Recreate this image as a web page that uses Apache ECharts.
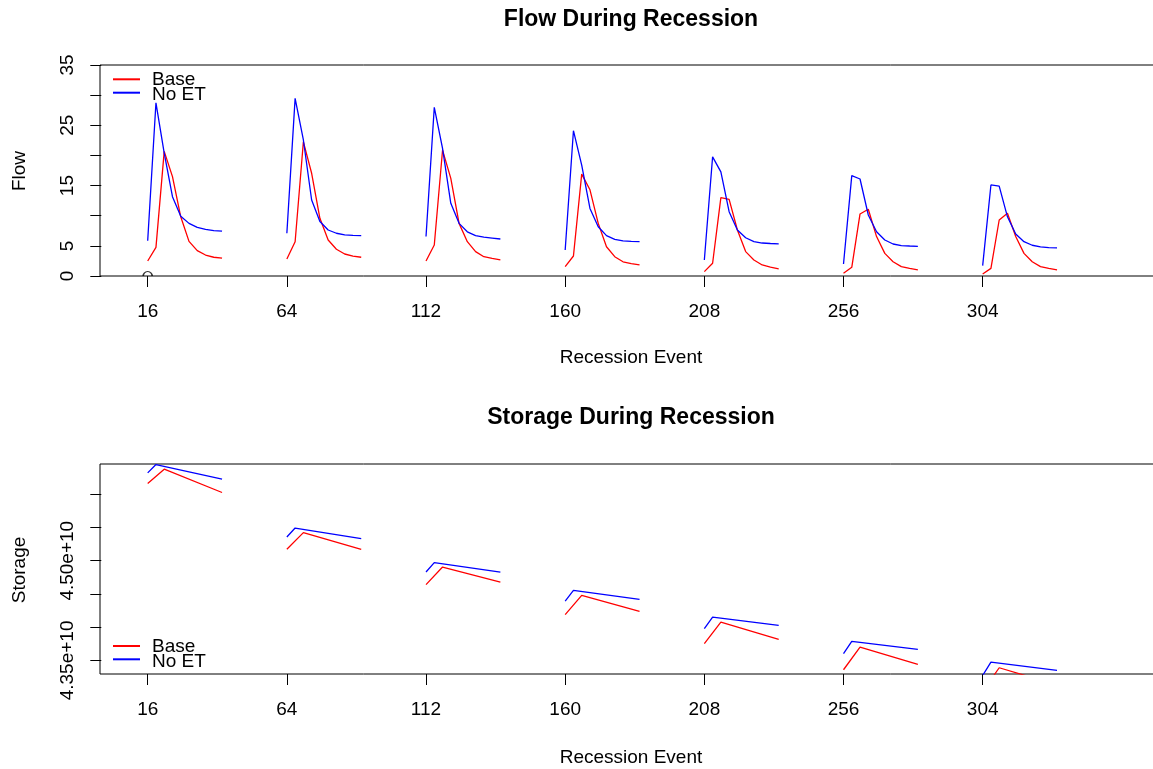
<!DOCTYPE html>
<html><head><meta charset="utf-8">
<script src="https://cdn.jsdelivr.net/npm/echarts@6/dist/echarts.min.js"></script>
<style>html,body{margin:0;padding:0;background:#fff;overflow:hidden}#c{width:1153px;height:769px}</style>
</head><body><div id="c"></div>
<script>
// ---- data ----
const eventStarts = [16, 64, 112, 160, 208, 256, 304];
const stepOffsets = [0, 2.85, 5.7, 8.55, 11.4, 14.25, 17.1, 19.95, 22.8, 25.65];
const xTickValues = [16, 64, 112, 160, 208, 256, 304];
const flowTicks = [0, 5, 10, 15, 20, 25, 30, 35];
const flowTickLabels = [0, 5, 15, 25, 35];
const storageTicks = [4.35, 4.40, 4.45, 4.50, 4.55, 4.60];
const storageTickLabels = [4.35, 4.50];
const circlePoint = [[16, 0]];

const flowBase = [
  [2.49, 4.75, 20.67, 16.49, 9.82, 5.74, 4.20, 3.48, 3.11, 2.96],
  [2.83, 5.69, 22.26, 17.04, 9.57, 5.97, 4.43, 3.65, 3.30, 3.11],
  [2.49, 5.15, 20.87, 16.19, 8.73, 5.69, 4.05, 3.20, 2.91, 2.66],
  [1.56, 3.32, 16.89, 14.30, 8.73, 4.85, 3.20, 2.36, 2.06, 1.83],
  [0.72, 2.11, 13.00, 12.71, 7.63, 4.05, 2.66, 1.83, 1.46, 1.17],
  [0.45, 1.44, 10.29, 11.07, 6.54, 3.75, 2.36, 1.56, 1.26, 1.00],
  [0.34, 1.26, 9.29, 10.42, 6.54, 3.75, 2.36, 1.56, 1.26, 1.00]
];
const flowNoET = [
  [5.84, 28.73, 20.37, 13.15, 9.92, 8.73, 8.08, 7.73, 7.53, 7.43],
  [7.09, 29.47, 22.56, 12.61, 9.03, 7.63, 7.09, 6.81, 6.74, 6.69],
  [6.54, 27.98, 21.16, 12.06, 8.73, 7.33, 6.69, 6.44, 6.29, 6.14],
  [4.32, 24.10, 18.38, 11.21, 8.18, 6.69, 6.09, 5.81, 5.74, 5.69],
  [2.66, 19.77, 17.28, 10.67, 7.63, 6.34, 5.69, 5.47, 5.39, 5.34],
  [1.99, 16.64, 16.09, 10.12, 7.33, 5.97, 5.31, 5.05, 4.98, 4.93],
  [1.71, 15.10, 14.90, 9.82, 6.97, 5.69, 5.10, 4.82, 4.70, 4.65]
];
// storage in units of 1e10: start, peak, end of each recession
const storageBaseOffsets = [0, 5.7, 25.65];
const storageNoETOffsets = [0, 2.85, 25.65];
const storageBase = [
  [4.6161, 4.6377, 4.6026],
  [4.5172, 4.5423, 4.5172],
  [4.4640, 4.4905, 4.4679],
  [4.4188, 4.4479, 4.4238],
  [4.3752, 4.4077, 4.3816],
  [4.3360, 4.3700, 4.3440],
  [4.3033, 4.3390, 4.3131]
];
const storageNoET = [
  [4.6321, 4.6447, 4.6226],
  [4.5357, 4.5492, 4.5333],
  [4.4830, 4.4971, 4.4830],
  [4.4393, 4.4554, 4.4419],
  [4.3977, 4.4152, 4.4027],
  [4.3601, 4.3786, 4.3666],
  [4.3274, 4.3474, 4.3349]
];

// ---- chart ----
const FONT = '"Liberation Sans", Arial, Helvetica, sans-serif';
const RED = '#ff0000', BLUE = '#0000ff';
const chart = echarts.init(document.getElementById('c'), null, {renderer: 'canvas'});

function xAxisCfg(gi) {
  return {
    type: 'value', gridIndex: gi, min: -0.45, max: 366.2,
    axisLine: {show: false}, splitLine: {show: false},
    axisTick: {show: true, customValues: xTickValues, length: 11, lineStyle: {color: '#000', width: 1}},
    axisLabel: {customValues: xTickValues, margin: 26, fontSize: 19, color: '#000', fontFamily: FONT}
  };
}

const series = [];
eventStarts.forEach((s, i) => {
  series.push({type: 'line', xAxisIndex: 0, yAxisIndex: 0, showSymbol: false, silent: true,
    lineStyle: {color: RED, width: 1.3}, data: stepOffsets.map((o, j) => [s + o, flowBase[i][j]])});
  series.push({type: 'line', xAxisIndex: 0, yAxisIndex: 0, showSymbol: false, silent: true,
    lineStyle: {color: BLUE, width: 1.3}, data: stepOffsets.map((o, j) => [s + o, flowNoET[i][j]])});
  series.push({type: 'line', xAxisIndex: 1, yAxisIndex: 1, showSymbol: false, silent: true,
    lineStyle: {color: RED, width: 1.3}, data: storageBaseOffsets.map((o, j) => [s + o, storageBase[i][j]])});
  series.push({type: 'line', xAxisIndex: 1, yAxisIndex: 1, showSymbol: false, silent: true,
    lineStyle: {color: BLUE, width: 1.3}, data: storageNoETOffsets.map((o, j) => [s + o, storageNoET[i][j]])});
});
series.push({type: 'scatter', xAxisIndex: 0, yAxisIndex: 0, silent: true, data: circlePoint,
  symbol: 'path://M-1,0A1,1,0,0,1,1,0', symbolSize: [9, 4.5], symbolOffset: [0, -2.25],
  itemStyle: {color: 'transparent', borderColor: '#000', borderWidth: 1.2}});

function txt(x, y, text, size, opts) {
  return Object.assign({type: 'text', x: x, y: y, silent: true,
    style: Object.assign({text: text, fontSize: size, fontFamily: FONT, fill: '#000',
      align: 'center', verticalAlign: 'middle'}, (opts && opts.style) || {})},
    opts && opts.rotation !== undefined ? {rotation: opts.rotation} : {});
}
function legendLine(y, color) {
  return {type: 'line', silent: true, shape: {x1: 113, y1: y, x2: 140, y2: y}, style: {stroke: color, lineWidth: 2}};
}

const option = {
  animation: false,
  backgroundColor: '#fff',
  grid: [
    {left: 100, top: 65, width: 1063, height: 211, outerBoundsMode: 'none', containLabel: false,
      show: true, borderColor: '#000', borderWidth: 1, backgroundColor: 'transparent'},
    {left: 100, top: 464, width: 1063, height: 210, outerBoundsMode: 'none', containLabel: false,
      show: true, borderColor: '#000', borderWidth: 1, backgroundColor: 'transparent'}
  ],
  xAxis: [xAxisCfg(0), xAxisCfg(1)],
  yAxis: [
    {type: 'value', gridIndex: 0, min: 0, max: 35,
      axisLine: {show: false}, splitLine: {show: false},
      axisTick: {show: true, customValues: flowTicks, length: 11, lineStyle: {color: '#000', width: 1}},
      axisLabel: {customValues: flowTickLabels, rotate: 90, margin: 23, fontSize: 19, color: '#000', fontFamily: FONT}},
    {type: 'value', gridIndex: 1, min: 4.3296, max: 4.6455,
      axisLine: {show: false}, splitLine: {show: false},
      axisTick: {show: true, customValues: storageTicks, length: 11, lineStyle: {color: '#000', width: 1}},
      axisLabel: {customValues: storageTickLabels, rotate: 90, margin: 23, fontSize: 19, color: '#000', fontFamily: FONT,
        formatter: v => v.toFixed(2) + 'e+10'}}
  ],
  series: series,
  graphic: [
    txt(631, 20, 'Flow During Recession', 23, {style: {fontWeight: 'bold'}}),
    txt(631, 418, 'Storage During Recession', 23, {style: {fontWeight: 'bold'}}),
    txt(631, 358, 'Recession Event', 19),
    txt(631, 758, 'Recession Event', 19),
    txt(20, 171, 'Flow', 19, {rotation: Math.PI / 2}),
    txt(20, 570, 'Storage', 19, {rotation: Math.PI / 2}),
    legendLine(79.3, RED), legendLine(92.7, BLUE),
    txt(152, 80, 'Base', 19, {style: {align: 'left'}}),
    txt(152, 95, 'No ET', 19, {style: {align: 'left'}}),
    legendLine(646, RED), legendLine(659.3, BLUE),
    txt(152, 647, 'Base', 19, {style: {align: 'left'}}),
    txt(152, 661.5, 'No ET', 19, {style: {align: 'left'}})
  ]
};
chart.setOption(option);
</script>
</body></html>
